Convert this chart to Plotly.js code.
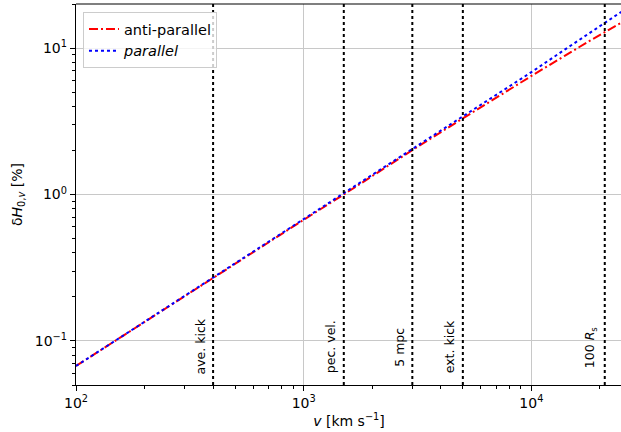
<!DOCTYPE html>
<html>
<head>
<meta charset="utf-8">
<script src="https://cdn.plot.ly/plotly-3.0.1.min.js"></script>
<style>html,body{margin:0;padding:0;overflow:hidden;background:#fff;}</style>
</head>
<body>
<div id="chart"></div>
<script>
// Velocity grid [km/s]
var velocity = [100, 200, 400, 700, 1000, 1500, 2000, 3000, 5000, 7000, 10000, 14000, 18000, 25000];
// delta H0 [%]
var antiParallel = [0.0674, 0.135, 0.269, 0.471, 0.672, 1.00, 1.34, 2.01, 3.31, 4.60, 6.45, 8.85, 11.2, 15.0];
var parallel     = [0.0674, 0.135, 0.270, 0.472, 0.675, 1.01, 1.35, 2.03, 3.39, 4.78, 6.85, 9.75, 12.7, 17.8];
// Reference velocities
var refVel    = [400, 1500, 3000, 5000, 21000];
var refLabels = ['ave. kick', 'pec. vel.', '5 mpc', 'ext. kick', '100 <i>R</i><sub>s</sub>'];
var xTickVals = [100, 1000, 10000];
var xTickText = ['10<sup>2</sup>', '10<sup>3</sup>', '10<sup>4</sup>'];
var yTickVals = [0.1, 1, 10];
var yTickText = ['10<sup>\u22121</sup>', '10<sup>0</sup>', '10<sup>1</sup>'];

var FONT = 'DejaVu Sans, sans-serif';

function minorVals(lo, hi) {
  var out = [];
  for (var e = lo; e <= hi; e++) {
    for (var d = 2; d <= 9; d++) out.push(d * Math.pow(10, e));
  }
  return out;
}

var traces = [
  {x: velocity, y: antiParallel, type: 'scatter', mode: 'lines', name: 'anti-parallel',
   line: {color: '#ff0000', width: 2, dash: '9px,3px,2px,3px'}},
  {x: velocity, y: parallel, type: 'scatter', mode: 'lines', name: '<i>parallel</i>',
   line: {color: '#0000ff', width: 2, dash: 'dot'}}
];

var shapes = refVel.map(function (v) {
  return {type: 'line', xref: 'x', yref: 'paper', x0: v, x1: v, y0: 0, y1: 1,
          line: {color: '#000', width: 2, dash: 'dot'}, layer: 'above'};
});
shapes.push({type: 'line', xref: 'paper', yref: 'paper', x0: 0, x1: 1, y0: 1, y1: 1,
             line: {color: '#000', width: 1.2}});

var annotations = refVel.map(function (v, i) {
  return {x: Math.log10(v), y: Math.log10(0.091), xref: 'x', yref: 'y', text: refLabels[i],
          showarrow: false, textangle: -90, xanchor: 'right', yanchor: 'middle', xshift: -3,
          font: {family: FONT, size: 12.5, color: '#000'}};
});

var axisCommon = {
  type: 'log', showline: true, linecolor: '#000', linewidth: 1.2, mirror: false,
  ticks: 'outside', ticklen: 5, tickwidth: 1, tickcolor: '#000',
  showgrid: true, gridcolor: '#c8c8c8', gridwidth: 1, zeroline: false,
  tickfont: {family: FONT, size: 14, color: '#000'}, tickmode: 'array'
};

var layout = {
  width: 622, height: 432,
  margin: {l: 76, r: 0, t: 4, b: 47},
  paper_bgcolor: '#fff', plot_bgcolor: '#fff',
  font: {family: FONT, color: '#000'},
  showlegend: true,
  legend: {x: 0.0128, y: 0.979, xanchor: 'left', yanchor: 'top',
           bgcolor: 'rgba(255,255,255,0.8)', bordercolor: '#cccccc', borderwidth: 1,
           font: {family: FONT, size: 14.5, color: '#000'}, itemwidth: 30, tracegroupgap: 0},
  xaxis: Object.assign({}, axisCommon, {
    range: [2, Math.log10(25000)], tickvals: xTickVals, ticktext: xTickText,
    minor: {tickmode: 'array', tickvals: minorVals(2, 4), ticks: 'outside', ticklen: 3, tickcolor: '#000', showgrid: false},
    title: {text: '<i>v</i> [km s<sup>\u22121</sup>]', font: {family: FONT, size: 14, color: '#000'}, standoff: 6}
  }),
  yaxis: Object.assign({}, axisCommon, {
    range: [Math.log10(0.05), Math.log10(20)], tickvals: yTickVals, ticktext: yTickText,
    minor: {tickmode: 'array', tickvals: minorVals(-2, 1), ticks: 'outside', ticklen: 3, tickcolor: '#000', showgrid: false},
    title: {text: '\u03b4<i>H</i><sub>0,<i>v</i></sub> [%]', font: {family: FONT, size: 14, color: '#000'}, standoff: 8}
  }),
  shapes: shapes,
  annotations: annotations
};

Plotly.newPlot('chart', traces, layout, {displayModeBar: false, staticPlot: true});
</script>
</body>
</html>
